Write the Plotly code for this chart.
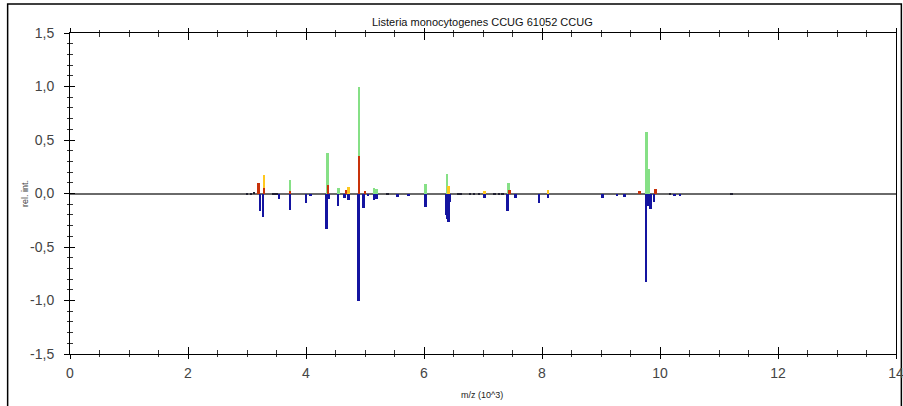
import plotly.graph_objects as go

# ---- data (m/z in 10^3, relative intensity) ----
green_mz = [3.73, 4.36, 4.55, 4.90, 5.15, 5.20, 6.03, 6.39, 7.43, 9.77, 9.81]
green_int = [0.13, 0.38, 0.05, 1.00, 0.05, 0.04, 0.085, 0.18, 0.10, 0.575, 0.23]

yellow_mz = [3.29, 4.72, 6.41, 7.02, 8.10]
yellow_int = [0.175, 0.06, 0.07, 0.02, 0.03]

red_mz = [3.20, 3.29, 3.73, 4.37, 4.68, 4.90, 5.00, 7.45, 9.65, 9.92]
red_int = [0.10, 0.05, 0.025, 0.075, 0.03, 0.347, 0.02, 0.03, 0.02, 0.04]

black_mz = [3.00, 3.07, 3.12, 3.45, 3.50, 5.38, 6.58, 6.62, 6.78, 6.85, 6.93,
            7.20, 7.27, 7.33, 10.17, 11.21]
black_int = [-0.01, -0.01, 0.01, -0.01, -0.015, -0.01, -0.01, -0.01, -0.01,
             -0.01, -0.01, -0.01, -0.01, -0.015, -0.01, -0.01]

blue_mz = [3.22, 3.27, 3.54, 3.73, 4.00, 4.08, 4.35, 4.39, 4.54, 4.65, 4.72,
           4.89, 4.97, 5.05, 5.15, 5.20, 5.55, 5.74, 6.02, 6.37, 6.39, 6.41,
           6.44, 7.02, 7.42, 7.55, 7.95, 8.10, 9.03, 9.27, 9.40, 9.76, 9.79,
           9.84, 9.90, 10.25, 10.34]
blue_int = [-0.165, -0.22, -0.055, -0.15, -0.087, -0.02, -0.33, -0.05, -0.12,
            -0.04, -0.065, -1.0, -0.14, -0.02, -0.065, -0.055, -0.03, -0.02,
            -0.13, -0.2, -0.24, -0.265, -0.08, -0.04, -0.16, -0.04, -0.087,
            -0.04, -0.04, -0.02, -0.03, -0.83, -0.12, -0.145, -0.08, -0.02, -0.02]

x_ticks = [0, 2, 4, 6, 8, 10, 12, 14]
x_ticktext = ["0", "2", "4", "6", "8", "10", "12", "14"]
x_minor_ticks = [0.5, 1, 1.5, 2.5, 3, 3.5, 4.5, 5, 5.5, 6.5, 7, 7.5, 8.5, 9, 9.5,
                 10.5, 11, 11.5, 12.5, 13, 13.5]
y_ticks = [-1.5, -1.0, -0.5, 0.0, 0.5, 1.0, 1.5]
y_ticktext = ["-1,5", "-1,0", "-0,5", "0,0", "0,5", "1,0", "1,5"]
y_minor_ticks = [-1.4, -1.3, -1.2, -1.1, -0.9, -0.8, -0.7, -0.6, -0.4, -0.3, -0.2,
                 -0.1, 0.1, 0.2, 0.3, 0.4, 0.6, 0.7, 0.8, 0.9, 1.1, 1.2, 1.3, 1.4]

title_text = "Listeria monocytogenes CCUG 61052 CCUG"
x_title = "m/z (10^3)"
y_title = "rel. int."

BAR_W = 0.045

fig = go.Figure()
series = [
    (green_mz, green_int, "#86e086"),
    (yellow_mz, yellow_int, "#ffc81e"),
    (red_mz, red_int, "#c8320a"),
    (blue_mz, blue_int, "#1414a0"),
    (black_mz, black_int, "#202030"),
]
for mz, it, col in series:
    fig.add_trace(go.Bar(x=mz, y=it, width=BAR_W, marker=dict(color=col, line=dict(width=0)),
                         showlegend=False, hoverinfo="x+y"))

tickfont = dict(family="Liberation Sans, Arial, sans-serif", size=14, color="#444444")

fig.update_layout(
    width=903, height=406,
    margin=dict(l=70, r=7, t=33, b=52, autoexpand=False),
    paper_bgcolor="white", plot_bgcolor="white",
    barmode="overlay", bargap=0,
    showlegend=False,
    xaxis=dict(range=[0, 14], tickmode="array", tickvals=x_ticks, ticktext=x_ticktext,
               ticks="inside", ticklen=7, tickwidth=1, tickcolor="black",
               minor=dict(tickmode="array", tickvals=x_minor_ticks, ticks="inside",
                          ticklen=4, tickwidth=1, tickcolor="#333333", showgrid=False),
               showline=True, linecolor="black", linewidth=1, mirror="ticks",
               showgrid=False, zeroline=False, tickfont=tickfont, automargin=False,
               ticklabelstandoff=6, ticklabeloverflow="allow"),
    xaxis2=dict(range=[0, 14], overlaying="x", anchor="y", side="bottom",
                tickmode="array", tickvals=x_ticks, ticks="outside", ticklen=4, tickcolor="black",
                minor=dict(tickmode="array", tickvals=x_minor_ticks, ticks="outside",
                           ticklen=2, tickwidth=1, tickcolor="#333333", showgrid=False),
                mirror="ticks", showline=False, showticklabels=False, automargin=False,
                showgrid=False, zeroline=False),
    yaxis=dict(range=[-1.5, 1.5], tickmode="array", tickvals=y_ticks, ticktext=y_ticktext,
               ticks="inside", ticklen=5, tickwidth=1, tickcolor="black",
               minor=dict(tickmode="array", tickvals=y_minor_ticks, ticks="inside",
                          ticklen=3, tickwidth=1, tickcolor="#333333", showgrid=False),
               showline=True, linecolor="black", linewidth=1, mirror=True,
               showgrid=False, zeroline=True, zerolinecolor="#6a6a6a", zerolinewidth=2,
               tickfont=tickfont, ticklabelstandoff=12, automargin=False),
    yaxis2=dict(range=[-1.5, 1.5], overlaying="y", anchor="x", side="left",
                tickmode="array", tickvals=y_ticks, ticks="outside", ticklen=5, tickcolor="black",
                minor=dict(tickmode="array", tickvals=y_minor_ticks, ticks="outside",
                           ticklen=2, tickwidth=1, tickcolor="#333333", showgrid=False),
                showline=False, showticklabels=False, showgrid=False, zeroline=False,
                automargin=False),
)

# dummy trace to activate overlay axes
fig.add_trace(go.Scatter(x=[None], y=[None], xaxis="x2", yaxis="y2",
                         showlegend=False, hoverinfo="skip"))

fig.add_annotation(text=title_text, xref="paper", yref="paper", x=0.499, y=1.034,
                   showarrow=False, xanchor="center", yanchor="middle",
                   font=dict(family="Liberation Sans Narrow, Arial Narrow, sans-serif",
                             size=11, color="#111111"))
fig.add_annotation(text=x_title, xref="paper", yref="paper", x=0.499, y=-0.128,
                   showarrow=False, xanchor="center", yanchor="middle",
                   font=dict(family="Liberation Sans Narrow, Arial Narrow, sans-serif",
                             size=9, color="#222222"))
fig.add_annotation(text=y_title, xref="paper", yref="paper", x=-0.055, y=0.5,
                   showarrow=False, xanchor="center", yanchor="middle", textangle=-90,
                   font=dict(family="Liberation Sans, Arial, sans-serif",
                             size=9, color="#444444"))

# outer frame
fig.add_shape(type="rect", xref="paper", yref="paper",
              x0=-0.0755, x1=1.0065, y0=-0.2, y1=1.0905,
              line=dict(color="black", width=1.5), fillcolor="rgba(0,0,0,0)", layer="below")

fig.write_html("out.html")
